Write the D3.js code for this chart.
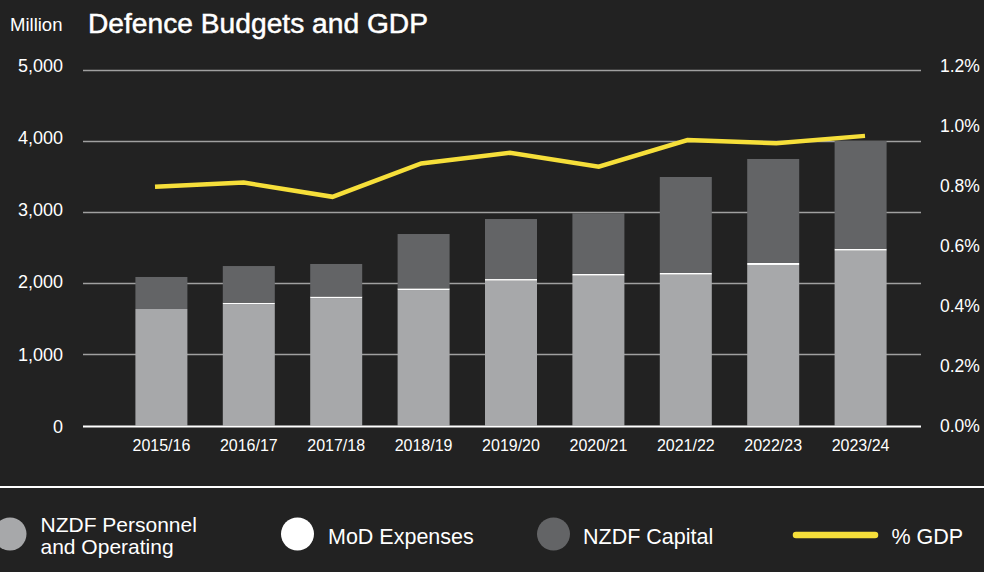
<!DOCTYPE html>
<html>
<head>
<meta charset="utf-8">
<script src="https://cdn.jsdelivr.net/npm/d3@7"></script>
<style>
  html, body { margin: 0; padding: 0; background: #222222; }
  svg { display: block; }
  text { font-family: "Liberation Sans", Arial, Helvetica, sans-serif; fill: #ffffff; }
</style>
</head>
<body>
<svg id="chart" width="984" height="572"></svg>
<script>
// Fiscal years
const years = ["2015/16", "2016/17", "2017/18", "2018/19", "2019/20", "2020/21", "2021/22", "2022/23", "2023/24"];
// Spending, $ million
const personnel = [1641, 1711, 1795, 1908, 2039, 2110, 2124, 2261, 2462];
const modExpenses = [0, 19, 22, 24, 24, 24, 24, 28, 28];
const capital = [451, 516, 458, 765, 845, 856, 1352, 1465, 1517];
// Defence spending as share of GDP, %
const gdpShare = [0.807, 0.821, 0.773, 0.886, 0.922, 0.875, 0.965, 0.954, 0.979];
// Axis ticks
const leftTicks = [0, 1000, 2000, 3000, 4000, 5000];
const rightTicks = [0, 0.2, 0.4, 0.6, 0.8, 1.0, 1.2];

const seriesKeys = ["personnel", "mod", "capital"];
const seriesColor = { personnel: "#a7a8aa", mod: "#ffffff", capital: "#636466" };
const lineColor = "#f6df3a";

const rows = years.map((yr, i) => ({
  year: yr,
  personnel: personnel[i],
  mod: modExpenses[i],
  capital: capital[i],
  gdp: gdpShare[i]
}));

const svg = d3.select("#chart");

const plotLeft = 83, plotRight = 921, plotTop = 70.5, plotBottom = 425.5;

const x = d3.scaleBand().domain(years).range([100, 922]).padding(0.405);
const xLine = d3.scalePoint().domain(years).range([155, 865]);
const y = d3.scaleLinear().domain([0, 5000]).range([plotBottom, plotTop]);
const yPct = d3.scaleLinear().domain([0, 1.2]).range([plotBottom, plotTop]);
// tick labels sit on a slightly taller span than the gridlines
const yLab = y.copy().range([426.5, 65.5]);
const yPctLab = yPct.copy().range([425.5, 65.5]);

// Title and unit
svg.append("text")
  .attr("x", 10).attr("y", 30.5)
  .attr("font-size", 18.5)
  .text("Million");
svg.append("text")
  .attr("x", 88).attr("y", 33.3)
  .attr("font-size", 28.2)
  .attr("stroke", "#ffffff").attr("stroke-width", 0.5)
  .text("Defence Budgets and GDP");

// Gridlines
svg.append("g")
  .selectAll("line")
  .data(leftTicks.filter(d => d > 0))
  .join("line")
  .attr("x1", plotLeft).attr("x2", plotRight)
  .attr("y1", d => y(d)).attr("y2", d => y(d))
  .attr("stroke", "#a0a0a0").attr("stroke-width", 1.4);

// Left axis labels
const leftAxis = d3.axisLeft(yLab).tickValues(leftTicks).tickSize(0).tickPadding(0)
  .tickFormat(d3.format(","));
svg.append("g")
  .attr("transform", "translate(63,0)")
  .call(leftAxis)
  .call(g => g.select(".domain").remove())
  .call(g => g.selectAll("text")
    .attr("font-size", 18).attr("fill", "#ffffff")
    .attr("font-family", "Liberation Sans, Arial, sans-serif"));

// Right axis labels
const rightAxis = d3.axisRight(yPctLab).tickValues(rightTicks).tickSize(0).tickPadding(0)
  .tickFormat(d => d3.format(".1f")(d) + "%");
svg.append("g")
  .attr("transform", "translate(940,0)")
  .call(rightAxis)
  .call(g => g.select(".domain").remove())
  .call(g => g.selectAll("text")
    .attr("font-size", 17.5).attr("fill", "#ffffff")
    .attr("font-family", "Liberation Sans, Arial, sans-serif"));

// Stacked bars
const stacked = d3.stack().keys(seriesKeys)(rows);
svg.append("g")
  .selectAll("g")
  .data(stacked)
  .join("g")
  .attr("fill", s => seriesColor[s.key])
  .selectAll("rect")
  .data(s => s)
  .join("rect")
  .attr("x", d => x(d.data.year))
  .attr("width", x.bandwidth())
  .attr("y", d => y(d[1]))
  .attr("height", d => Math.max(0, y(d[0]) - y(d[1])));

// Baseline
svg.append("line")
  .attr("x1", plotLeft).attr("x2", plotRight)
  .attr("y1", y(0) + 1).attr("y2", y(0) + 1)
  .attr("stroke", "#ffffff").attr("stroke-width", 2.2);

// X axis labels
const xAxis = d3.axisBottom(x).tickSize(0).tickPadding(0);
svg.append("g")
  .attr("transform", "translate(0,440)")
  .call(xAxis)
  .call(g => g.select(".domain").remove())
  .call(g => g.selectAll("text")
    .attr("font-size", 16).attr("fill", "#ffffff")
    .attr("font-family", "Liberation Sans, Arial, sans-serif"));

// % GDP line
const line = d3.line()
  .x(d => xLine(d.year))
  .y(d => yPct(d.gdp));
svg.append("path")
  .datum(rows)
  .attr("d", line)
  .attr("fill", "none")
  .attr("stroke", lineColor)
  .attr("stroke-width", 4.5)
  .attr("stroke-linejoin", "miter");

// Legend separator
svg.append("line")
  .attr("x1", 0).attr("x2", 984)
  .attr("y1", 487).attr("y2", 487)
  .attr("stroke", "#ffffff").attr("stroke-width", 2.2);

// Legend
const legend = svg.append("g").attr("font-size", 21.5);
const legendItems = [
  { key: "personnel", cx: 10, tx: 40.5, lines: ["NZDF Personnel", "and Operating"] },
  { key: "mod", cx: 297.5, tx: 328, lines: ["MoD Expenses"] },
  { key: "capital", cx: 553.5, tx: 583, lines: ["NZDF Capital"] }
];
legendItems.forEach(it => {
  legend.append("circle")
    .attr("cx", it.cx).attr("cy", 534).attr("r", 16.5)
    .attr("fill", seriesColor[it.key]);
  const t = legend.append("text").attr("x", it.tx);
  if (it.lines.length === 1) {
    t.attr("y", 544).text(it.lines[0]);
  } else {
    // two-line label with tight leading
    t.attr("font-size", 21);
    it.lines.forEach((s, i) => {
      t.append("tspan").attr("x", it.tx).attr("y", 532 + i * 21.5).text(s);
    });
  }
});
legend.append("line")
  .attr("x1", 796).attr("x2", 875)
  .attr("y1", 535).attr("y2", 535)
  .attr("stroke", lineColor).attr("stroke-width", 6.5)
  .attr("stroke-linecap", "round");
legend.append("text").attr("x", 891.5).attr("y", 544).text("% GDP");
</script>
</body>
</html>
